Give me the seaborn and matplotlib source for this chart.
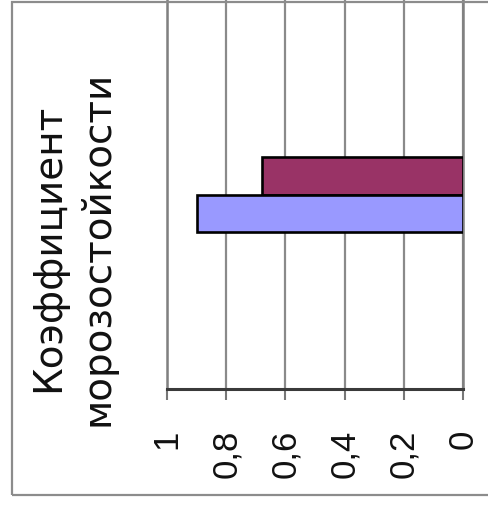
import matplotlib
matplotlib.use("Agg")
import matplotlib.pyplot as plt
from matplotlib.patches import Rectangle
import seaborn as sns
import pandas as pd

# Data
categories = ["1"]
series = ["Ряд2", "Ряд1"]          # top bar first
values = [0.68, 0.9]
bar_colors = ["#993366", "#9999FF"]
ticks = [1.0, 0.8, 0.6, 0.4, 0.2, 0.0]
tick_labels = ["1", "0,8", "0,6", "0,4", "0,2", "0"]
axis_title = "Коэффициент\nморозостойкости"

sns.set_style("white")
plt.rcParams["font.family"] = ["DejaVu Sans"]

W, H = 488, 507
fig = plt.figure(figsize=(W / 100, H / 100), dpi=100)
fig.patch.set_facecolor("white")

# plot area in pixels: x 167..463, y 0..389
ax = fig.add_axes([167 / W, 1 - 389 / H, (463 - 167) / W, 389 / H])

df = pd.DataFrame({
    "category": categories * len(series),
    "series": series,
    "value": values,
})

sns.barplot(data=df, x="value", y="category", hue="series", hue_order=series,
            palette=bar_colors, saturation=1, orient="h", width=0.193, dodge=True,
            edgecolor="black", linewidth=1.9, legend=False, ax=ax, zorder=3)

ax.set_xlim(1.0, 0.0)
ax.set_ylim(0.5, -0.5)

ax.set_xticks(ticks)
ax.set_xticklabels(tick_labels, rotation=90, fontsize=25,
                   family=["Liberation Sans", "DejaVu Sans"], color="#111111")
ax.tick_params(axis="x", direction="out", length=8, width=1.5, color="#777777", pad=21,
               bottom=True)
ax.set_yticks([])
ax.set_xlabel("")

ax.xaxis.grid(True, color="#8a8a8a", linewidth=1.6)
ax.yaxis.grid(False)
ax.set_axisbelow(True)

for side in ["left", "right"]:
    ax.spines[side].set_visible(True)
    ax.spines[side].set_color("#808080")
    ax.spines[side].set_linewidth(1.8)
ax.spines["top"].set_visible(False)
ax.spines["bottom"].set_visible(True)
ax.spines["bottom"].set_color("#3a3a3a")
ax.spines["bottom"].set_linewidth(2.2)

ax.set_ylabel(axis_title, fontsize=28, color="#111111", linespacing=1.38,
              multialignment="center")
ax.yaxis.label.set_verticalalignment("center")
ax.yaxis.set_label_coords((73 - 167) / 296, 1 - 248 / 389)

# outer chart frame
fig.patches.append(Rectangle((12 / W, 1 - 495 / H), 1.2, (495 - 2) / H,
                             transform=fig.transFigure, fill=False,
                             edgecolor="#8c8c8c", linewidth=1.6))

fig.savefig("out.png", dpi=100, facecolor="white")
